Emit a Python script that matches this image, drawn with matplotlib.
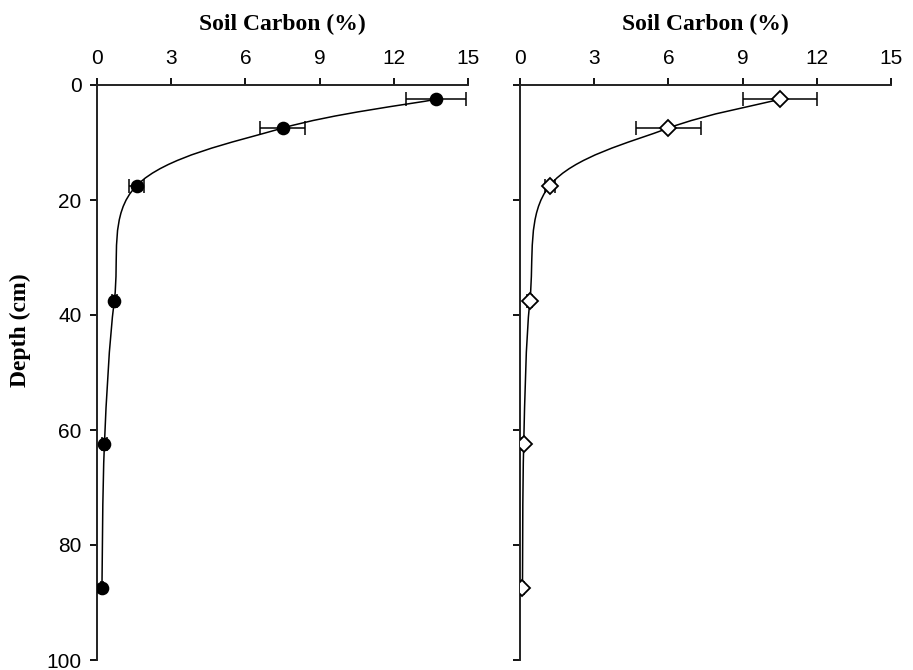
import numpy as np
import matplotlib
matplotlib.use('Agg')
import matplotlib.pyplot as plt
from matplotlib.path import Path
from matplotlib.patches import PathPatch

# depth of each sample (cm)
depth = [2.5, 7.5, 17.5, 37.5, 62.5, 87.5]

# left panel: soil carbon (%) and error
carbon_left = [13.7, 7.5, 1.6, 0.7, 0.3, 0.2]
err_left = [1.2, 0.9, 0.3, 0.1, 0.1, 0.05]

# right panel
carbon_right = [10.5, 6.0, 1.2, 0.4, 0.15, 0.1]
err_right = [1.5, 1.3, 0.2, 0.1, 0.05, 0.05]

x_ticks = [0, 3, 6, 9, 12, 15]
y_ticks = [0, 20, 40, 60, 80, 100]

tick_font = {'family': ['Liberation Sans', 'DejaVu Sans'], 'size': 15}
label_font = {'family': ['Liberation Serif', 'DejaVu Serif'], 'size': 17, 'weight': 'bold'}


def smooth_path(xs, ys):
    """
    Excel 风格的平滑线 (Catmull-Rom -> Bezier)
    """
    pts = np.column_stack([xs, ys]).astype(float)
    n = len(pts)
    verts = [pts[0]]
    codes = [Path.MOVETO]
    for i in range(n - 1):
        p0 = pts[i - 1] if i > 0 else pts[i]
        p1 = pts[i]
        p2 = pts[i + 1]
        p3 = pts[i + 2] if i + 2 < n else pts[i + 1]
        c1 = p1 + (p2 - p0) / 6.0
        c2 = p2 - (p3 - p1) / 6.0
        verts += [c1, c2, p2]
        codes += [Path.CURVE4] * 3
    return Path(verts, codes)


def panel(ax, carbon, err, marker, face, msize, show_ylabels):
    ax.add_patch(PathPatch(smooth_path(carbon, depth), fill=False,
                           edgecolor='black', lw=1.1, zorder=2))
    ax.errorbar(carbon, depth, xerr=err, fmt='none', ecolor='black',
                elinewidth=1.1, capsize=5, capthick=1.1, zorder=3)
    ax.plot(carbon, depth, linestyle='none', marker=marker, markersize=msize,
            markerfacecolor=face, markeredgecolor='black', markeredgewidth=1.3,
            zorder=4)
    ax.set_xlim(0, 15)
    ax.set_ylim(100, 0)
    ax.xaxis.set_ticks_position('top')
    ax.xaxis.set_label_position('top')
    ax.set_xticks(x_ticks)
    ax.set_yticks(y_ticks)
    ax.set_xticklabels([str(t) for t in x_ticks], fontdict=tick_font)
    if show_ylabels:
        ax.set_yticklabels([str(t) for t in y_ticks], fontdict=tick_font)
    else:
        ax.set_yticklabels([])
    ax.tick_params(axis='x', direction='out', length=5, width=1.3, color='black', pad=7)
    ax.tick_params(axis='y', direction='out', length=5, width=1.3, color='black', pad=6)
    ax.spines['right'].set_visible(False)
    ax.spines['bottom'].set_visible(False)
    for s in ('left', 'top'):
        ax.spines[s].set_linewidth(1.4)
        ax.spines[s].set_color('#222222')
    ax.set_xlabel('Soil Carbon (%)', fontdict=label_font, labelpad=14)
    ax.patch.set_alpha(0)


fig = plt.figure(figsize=(9.13, 6.7), dpi=100)
ax1 = fig.add_axes([97 / 913, 10 / 670, 371 / 913, 575 / 670])
ax2 = fig.add_axes([520 / 913, 10 / 670, 371 / 913, 575 / 670])

panel(ax1, carbon_left, err_left, 'o', 'black', 8.5, True)
panel(ax2, carbon_right, err_right, 'D', 'white', 8, False)

fig.text(20 / 913, 1 - 330 / 670, 'Depth (cm)', rotation=90, ha='center',
         va='center', fontdict=label_font)

fig.savefig('out.png', dpi=100)
